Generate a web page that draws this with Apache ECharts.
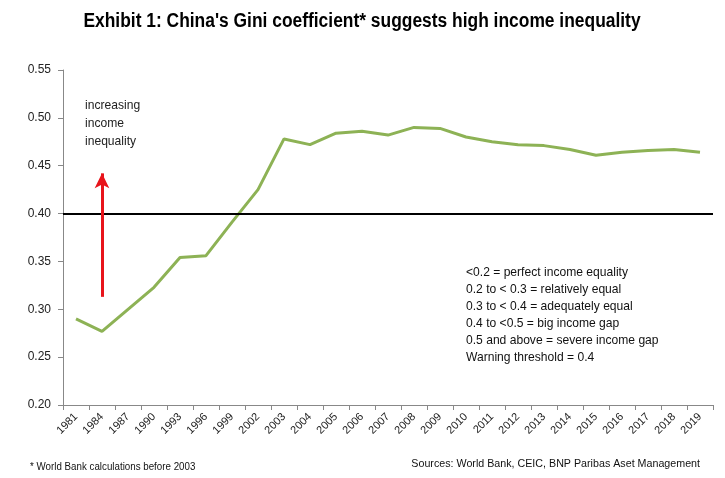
<!DOCTYPE html>
<html lang="en">
  <head>
    <meta charset="UTF-8" />
    <title>China Gini coefficient</title>
    <script src="https://cdn.jsdelivr.net/npm/echarts@6/dist/echarts.min.js"></script>
    <style>
      html, body { margin: 0; padding: 0; background: #fff; }
      #chart { width: 725px; height: 478px; }
    </style>
  </head>
  <body>
    <div id="chart"></div>
    <script>
      // years on the x axis
      var years = ["1981", "1984", "1987", "1990", "1993", "1996", "1999", "2002", "2003", "2004",
        "2005", "2006", "2007", "2008", "2009", "2010", "2011", "2012", "2013", "2014",
        "2015", "2016", "2017", "2018", "2019"];
      // Gini coefficient
      var gini = [0.290, 0.277, 0.300, 0.323, 0.354, 0.356, 0.391, 0.425, 0.478, 0.472,
        0.484, 0.486, 0.482, 0.490, 0.489, 0.480, 0.475, 0.472, 0.471, 0.467,
        0.461, 0.464, 0.466, 0.467, 0.464];
      var threshold = 0.4;
      // red arrow: from / to
      var arrowYear = "1984";
      var arrowFrom = 0.313;
      var arrowTo = 0.442;
      var notes = [
        "<0.2 = perfect income equality",
        "0.2 to < 0.3 = relatively equal",
        "0.3 to < 0.4 = adequately equal",
        "0.4 to <0.5 = big income gap",
        "0.5 and above = severe income gap",
        "Warning threshold = 0.4"
      ];

      var font = "'Liberation Sans', Arial, sans-serif";
      var myChart = echarts.init(document.getElementById("chart"));

      var option = {
        animation: false,
        textStyle: { fontFamily: font },
        grid: { left: 63, right: 12, top: 70, bottom: 73 },
        xAxis: {
          type: "category",
          data: years,
          boundaryGap: true,
          axisLine: { lineStyle: { color: "#888" } },
          axisTick: { show: true, alignWithLabel: false, lineStyle: { color: "#888" } },
          axisLabel: { rotate: 45, interval: 0, fontSize: 11, color: "#222", margin: 10 }
        },
        yAxis: {
          type: "value",
          min: 0.2,
          max: 0.55,
          interval: 0.05,
          axisLine: { show: true, lineStyle: { color: "#888" } },
          axisTick: { show: true, lineStyle: { color: "#888" } },
          splitLine: { show: false },
          axisLabel: {
            fontSize: 12,
            color: "#222",
            margin: 12,
            formatter: function (v) { return v.toFixed(2); }
          }
        },
        series: [
          {
            name: "Gini",
            type: "line",
            data: gini,
            symbol: "none",
            lineStyle: { color: "#8db255", width: 3 },
            markLine: {
              silent: true,
              symbol: "none",
              label: { show: false },
              lineStyle: { color: "#000", width: 2, type: "solid" },
              data: [{ yAxis: threshold }]
            },
            z: 3
          },
          {
            name: "arrow",
            type: "line",
            data: [],
            markLine: {
              silent: true,
              symbol: ["none", "arrow"],
              symbolSize: [11, 15],
              label: { show: false },
              lineStyle: { color: "#e8141b", width: 3, type: "solid" },
              data: [[{ coord: [arrowYear, arrowFrom] }, { coord: [arrowYear, arrowTo] }]]
            }
          }
        ],
        graphic: [
          {
            // condensed bold title
            type: "text",
            x: 362,
            y: 21,
            scaleX: 0.87,
            style: {
              text: "Exhibit 1: China's Gini coefficient* suggests high income inequality",
              font: "bold 20px " + font,
              fill: "#000",
              textAlign: "center",
              textVerticalAlign: "middle"
            }
          },
          {
            type: "text",
            x: 85,
            y: 96,
            scaleX: 0.93,
            style: {
              text: "increasing\nincome\ninequality",
              font: "13px " + font,
              fill: "#222",
              lineHeight: 18
            }
          },
          {
            type: "text",
            x: 466,
            y: 264,
            scaleX: 0.93,
            style: {
              text: notes.join("\n"),
              font: "13px " + font,
              fill: "#111",
              lineHeight: 17
            }
          },
          {
            type: "text",
            x: 30,
            y: 462,
            scaleX: 0.93,
            style: { text: "* World Bank calculations before 2003", font: "10.5px " + font, fill: "#111" }
          },
          {
            type: "text",
            x: 700,
            y: 458,
            scaleX: 0.93,
            style: {
              text: "Sources: World Bank, CEIC, BNP Paribas Aset Management",
              font: "11.5px " + font,
              fill: "#111",
              textAlign: "right"
            }
          }
        ]
      };
      myChart.setOption(option);
    </script>
  </body>
</html>
